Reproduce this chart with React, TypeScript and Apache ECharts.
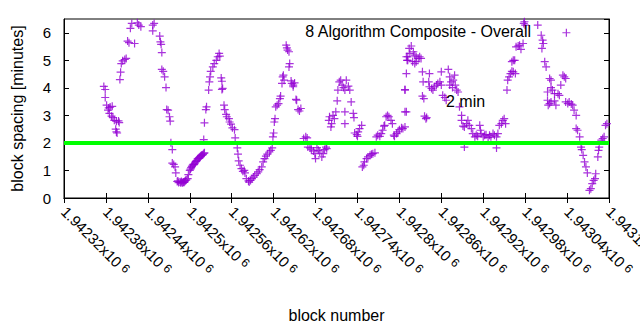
import React, { useEffect, useRef } from "react";
import * as echarts from "echarts";

// block numbers (x) and block spacing in minutes (y)
const blocks = [
  1942377, 1942379, 1942379, 1942381, 1942384, 1942386, 1942389, 1942383, 1942385, 1942388,
  1942390, 1942392, 1942395, 1942398, 1942399, 1942394, 1942395, 1942396, 1942400, 1942401,
  1942402, 1942404, 1942407, 1942409, 1942411, 1942413, 1942415, 1942417, 1942421, 1942425,
  1942427, 1942430, 1942447, 1942449, 1942447, 1942457, 1942458, 1942459, 1942460, 1942460,
  1942462, 1942464, 1942466, 1942467, 1942469, 1942471, 1942472, 1942473, 1942475, 1942475,
  1942477, 1942479, 1942480, 1942482, 1942483, 1942484, 1942486, 1942487, 1942488, 1942489,
  1942490, 1942491, 1942492, 1942493, 1942494, 1942495, 1942497, 1942498, 1942500, 1942501,
  1942502, 1942503, 1942504, 1942505, 1942506, 1942507, 1942508, 1942509, 1942510, 1942511,
  1942512, 1942513, 1942514, 1942515, 1942516, 1942517, 1942518, 1942519, 1942520, 1942521,
  1942520, 1942521, 1942523, 1942524, 1942527, 1942528, 1942529, 1942530, 1942533, 1942535,
  1942538, 1942540, 1942542, 1942543, 1942545, 1942546, 1942547, 1942546, 1942549, 1942550,
  1942552, 1942553, 1942556, 1942557, 1942559, 1942561, 1942564, 1942565, 1942568, 1942569,
  1942570,
  1942572, 1942574, 1942576, 1942578, 1942579, 1942581, 1942584, 1942585, 1942587, 1942589,
  1942591, 1942593, 1942596, 1942598, 1942600, 1942603, 1942605, 1942607, 1942609, 1942611,
  1942614, 1942616, 1942618, 1942619, 1942620, 1942621, 1942622, 1942623, 1942625, 1942627,
  1942629, 1942630, 1942632, 1942633, 1942634, 1942635, 1942638, 1942639, 1942640, 1942642,
  1942642, 1942643, 1942645, 1942646, 1942648, 1942650, 1942648, 1942652, 1942653, 1942655,
  1942657, 1942659, 1942663, 1942666, 1942668, 1942669, 1942672, 1942674, 1942677, 1942679,
  1942680, 1942682, 1942684, 1942686, 1942689, 1942691, 1942693, 1942696, 1942695, 1942699,
  1942700, 1942702, 1942703, 1942705, 1942707, 1942709, 1942711, 1942712, 1942714, 1942716,
  1942718, 1942720, 1942722, 1942724, 1942727, 1942729, 1942722, 1942722, 1942731, 1942734,
  1942735, 1942736, 1942739, 1942741, 1942743, 1942746, 1942740, 1942747, 1942749, 1942750,
  1942753, 1942755, 1942758, 1942760, 1942762, 1942765, 1942767, 1942769, 1942772, 1942774,
  1942776, 1942778, 1942779, 1942781, 1942783, 1942785, 1942788, 1942790, 1942792, 1942793,
  1942796, 1942798, 1942800, 1942803, 1942805, 1942808, 1942808, 1942808, 1942810, 1942812,
  1942814,
  1942811, 1942812, 1942815, 1942817, 1942820, 1942822, 1942824, 1942827, 1942829, 1942831,
  1942819, 1942822, 1942824, 1942808, 1942810, 1942810, 1942833, 1942834, 1942833, 1942835,
  1942836, 1942838, 1942839, 1942843, 1942842, 1942843, 1942846, 1942848, 1942850, 1942853,
  1942855, 1942858, 1942860, 1942860, 1942862, 1942865, 1942867, 1942870, 1942872, 1942872,
  1942874, 1942876, 1942877, 1942879, 1942880, 1942882, 1942884, 1942886, 1942889, 1942889,
  1942891, 1942893, 1942896, 1942898, 1942900, 1942903, 1942893, 1942905, 1942908, 1942910,
  1942912, 1942915, 1942916, 1942917, 1942920, 1942922, 1942924, 1942927, 1942929, 1942931,
  1942934, 1942936, 1942939, 1942939, 1942941, 1942943, 1942946, 1942948, 1942950, 1942952,
  1942954, 1942955, 1942957, 1942959, 1942961, 1942963, 1942966, 1942961, 1942963, 1942965,
  1942967, 1942970, 1942972, 1942974, 1942977, 1942978, 1942979, 1942980, 1942998, 1943003,
  1943005, 1943006, 1943004, 1943008, 1943010, 1943015, 1943017, 1943012, 1943017, 1943019,
  1943022, 1943012, 1943013, 1943015, 1943017, 1943022, 1943024, 1943027, 1943029, 1943031,
  1943034, 1943036, 1943038, 1943039, 1943038, 1943041, 1943043, 1943046, 1943048, 1943050,
  1943053, 1943053, 1943055, 1943058, 1943060, 1943061, 1943063, 1943065, 1943067, 1943069,
  1943072, 1943074, 1943076, 1943078, 1943080, 1943081, 1943084, 1943085, 1943086, 1943089,
  1943091, 1943093, 1943095, 1943097,
];

const spacingMinutes = [
  4.05, 3.94, 3.65, 3.37, 3.27, 3.3, 3.33, 3.19, 3.07, 2.97,
  2.92, 2.82, 2.79, 2.8, 2.74, 2.5, 2.4, 2.36, 4.3, 4.57,
  4.88, 4.98, 5.03, 5.07, 5.7, 5.64, 6.16, 6.34, 5.61, 6.36,
  6.28, 6.22, 6.28, 6.34, 6.07, 5.88, 5.67, 5.58, 5.28, 4.67,
  4.6, 4.4, 4.01, 3.21, 3.19, 2.95, 2.79, 2.01, 1.76, 1.27,
  1.22, 1.13, 0.91, 0.6, 0.62, 0.56, 0.58, 0.55, 0.6, 0.56,
  0.55, 0.58, 0.57, 0.61, 0.64, 0.66, 0.7, 0.85, 1.0, 1.05,
  1.1, 1.15, 1.19, 1.22, 1.21, 1.25, 1.3, 1.33, 1.36, 1.41,
  1.43, 1.46, 1.48, 1.5, 1.53, 1.55, 1.56, 1.58, 1.62, 1.64,
  2.12, 2.73, 3.21, 3.31, 3.92, 4.22, 4.4, 4.6, 4.76, 4.88,
  5.0, 5.13, 5.25, 5.15, 4.36, 4.24, 3.98, 3.94, 3.37, 3.21,
  3.04, 2.95, 2.88, 2.76, 2.68, 2.55, 2.48, 2.18, 1.82, 1.59,
  1.35,
  1.19, 1.07, 0.97, 1.0, 0.91, 0.7, 0.62, 0.58, 0.64, 0.7,
  0.76, 0.82, 0.88, 0.95, 1.03, 1.13, 1.31, 1.43, 1.52, 1.59,
  1.67, 1.73, 1.82, 2.22, 2.36, 2.76, 2.88, 3.31, 3.37, 3.43,
  3.61, 3.7, 4.16, 4.4, 4.46, 4.28, 5.55, 5.45, 5.37, 5.31,
  4.76, 4.88, 4.25, 4.16, 4.1, 4.18, 4.04, 3.58, 3.55, 3.21,
  3.16, 3.25, 2.16, 2.22, 2.18, 1.85, 1.82, 1.77, 1.71, 1.61,
  1.43, 1.83, 1.73, 1.67, 1.49, 1.61, 1.76, 1.79, 1.85, 2.82,
  2.95, 2.58, 2.7, 3.0, 2.88, 3.13, 3.53, 3.92, 4.22, 4.28,
  4.1, 4.01, 3.92, 4.28, 4.06, 3.92, 3.13, 2.7, 3.49, 3.07,
  2.92, 2.36, 2.3, 2.4, 2.52, 2.64, 2.24, 1.13, 1.19, 1.31,
  1.43, 1.49, 1.55, 1.59, 1.61, 1.64, 2.22, 2.28, 2.24, 2.34,
  2.46, 2.61, 2.64, 2.95, 3.0, 2.95, 2.82, 2.7, 2.28, 2.24,
  2.34, 2.4, 2.48, 2.55, 2.52, 2.58, 3.13, 3.94, 5.13, 5.0,
  5.43,
  5.0, 5.13, 5.25, 5.52, 5.31, 5.19, 5.13, 5.07, 5.13, 5.07,
  4.95, 4.88, 4.95, 3.92, 4.52, 3.13, 4.58, 4.22, 3.7, 3.61,
  2.97, 2.88, 2.92, 4.52, 4.22, 4.04, 3.98, 3.92, 4.04, 4.1,
  4.16, 4.22, 4.58, 4.1, 3.73, 3.65, 3.55, 4.67, 4.4, 4.1,
  4.22, 4.01, 4.28, 4.46, 4.1, 3.92, 3.85, 3.31, 3.0, 2.82,
  2.61, 2.58, 2.7, 2.82, 2.64, 2.52, 1.85, 2.34, 2.22, 2.28,
  2.24, 2.64, 2.46, 2.34, 2.22, 2.28, 2.3, 2.19, 2.28, 2.22,
  2.34, 2.28, 1.82, 2.22, 2.34, 2.64, 2.7, 2.82, 2.88, 2.7,
  3.92, 4.28, 4.4, 4.52, 4.6, 4.58, 4.52, 4.95, 5.0, 5.0,
  5.49, 5.52, 5.55, 5.4, 5.61, 6.34, 6.4, 6.28, 6.28, 5.91,
  5.73, 5.61, 5.43, 4.95, 4.76, 4.34, 4.28, 3.85, 4.01, 3.92,
  3.79, 3.55, 3.37, 3.43, 3.49, 3.53, 3.37, 3.79, 3.73, 4.1,
  4.46, 4.4, 4.34, 6.0, 3.49, 3.43, 3.49, 3.41, 3.37, 3.19,
  3.0, 2.52, 2.46, 2.22, 1.85, 1.76, 1.55, 1.31, 1.13, 0.91,
  0.28, 0.34, 0.52, 0.64, 0.7, 0.88, 1.49, 1.73, 1.85, 2.1,
  2.16, 2.22, 2.64, 2.7,
];

// axes
const xMin = 1942320;
const xMax = 1943100;
const xStep = 60;
const yMin = 0;
const yMax = 6.5;
const yStep = 1;

// reference line
const thresholdMinutes = 2;
const thresholdLabel = "2 min";
const chartTitle = "8 Algorithm Composite - Overall";
const xName = "block number";
const yName = "block spacing [minutes]";

const FONT = "Liberation Sans, Arial, sans-serif";

export default function App() {
  const ref = useRef<HTMLDivElement>(null);
  useEffect(() => {
    if (!ref.current) return;
    const chart = echarts.init(ref.current, undefined, { renderer: "svg" });
    const points = blocks.map((b, i) => [b, spacingMinutes[i]]);
    const tickCommon = { inside: true, length: 5, lineStyle: { color: "#000", width: 1 } };
    chart.setOption({
      animation: false,
      backgroundColor: "#fff",
      textStyle: { fontFamily: FONT },
      grid: {
        left: 64,
        right: 31,
        top: 19,
        bottom: 132,
        containLabel: false,
        outerBoundsMode: "none",
        show: true,
        borderColor: "#000",
        borderWidth: 1,
        backgroundColor: "transparent",
      },
      xAxis: [
        {
          type: "value",
          min: xMin,
          max: xMax,
          interval: xStep,
          position: "bottom",
          name: xName,
          nameLocation: "middle",
          nameGap: 109,
          nameTextStyle: { fontSize: 16, color: "#000", fontFamily: FONT },
          axisLine: { show: true, lineStyle: { color: "#000" } },
          axisTick: tickCommon,
          splitLine: { show: false },
          axisLabel: {
            rotate: -45,
            margin: 11,
            color: "#000",
            fontSize: 15,
            fontFamily: FONT,
            formatter: (v: number) => {
              const s = parseFloat((v / 1e6).toFixed(5)).toString();
              return `{a|${s}x10}{b|6}`;
            },
            rich: {
              a: { fontSize: 15, fontFamily: FONT, color: "#000" },
              b: { fontSize: 12, fontFamily: FONT, color: "#000", verticalAlign: "top", padding: [0, 0, 0, 4] },
            },
          },
        },
        {
          type: "value",
          min: xMin,
          max: xMax,
          interval: xStep,
          position: "top",
          axisLine: { show: true, lineStyle: { color: "#000" } },
          axisTick: tickCommon,
          axisLabel: { show: false },
          splitLine: { show: false },
        },
      ],
      yAxis: [
        {
          type: "value",
          min: yMin,
          max: yMax,
          interval: yStep,
          position: "left",
          name: yName,
          nameLocation: "middle",
          nameGap: 39,
          nameTextStyle: { fontSize: 16, color: "#000", fontFamily: FONT },
          axisLine: { show: true, lineStyle: { color: "#000" } },
          axisTick: tickCommon,
          splitLine: { show: false },
          axisLabel: {
            margin: 13,
            color: "#000",
            fontSize: 15,
            fontFamily: FONT,
            showMaxLabel: false,
          },
        },
        {
          type: "value",
          min: yMin,
          max: yMax,
          interval: yStep,
          position: "right",
          axisLine: { show: true, lineStyle: { color: "#000" } },
          axisTick: tickCommon,
          axisLabel: { show: false },
          splitLine: { show: false },
        },
      ],
      series: [
        {
          type: "scatter",
          xAxisIndex: 0,
          yAxisIndex: 0,
          data: points,
          symbol: "path://M5,0L5,10M0,5L10,5",
          symbolSize: 8,
          itemStyle: { color: "rgba(0,0,0,0)", borderColor: "#9400d3", borderWidth: 1.2 },
          clip: true,
          z: 2,
        },
        {
          type: "line",
          xAxisIndex: 0,
          yAxisIndex: 0,
          data: [
            [xMin, thresholdMinutes],
            [xMax, thresholdMinutes],
          ],
          showSymbol: false,
          symbol: "none",
          lineStyle: { color: "#00ff00", width: 4 },
          z: 3,
        },
      ],
      graphic: [
        {
          type: "text",
          right: 640 - 532,
          top: 23,
          style: { text: chartTitle, fontSize: 16, fontFamily: FONT, fill: "#000" },
          z: 10,
        },
        {
          type: "text",
          left: 446,
          top: 93,
          style: { text: thresholdLabel, fontSize: 16, fontFamily: FONT, fill: "#000" },
          z: 10,
        },
      ],
    });
    return () => chart.dispose();
  }, []);
  return (
    <div
      ref={ref}
      style={{ position: "fixed", left: 0, top: 0, width: 640, height: 330, background: "#fff" }}
    />
  );
}
